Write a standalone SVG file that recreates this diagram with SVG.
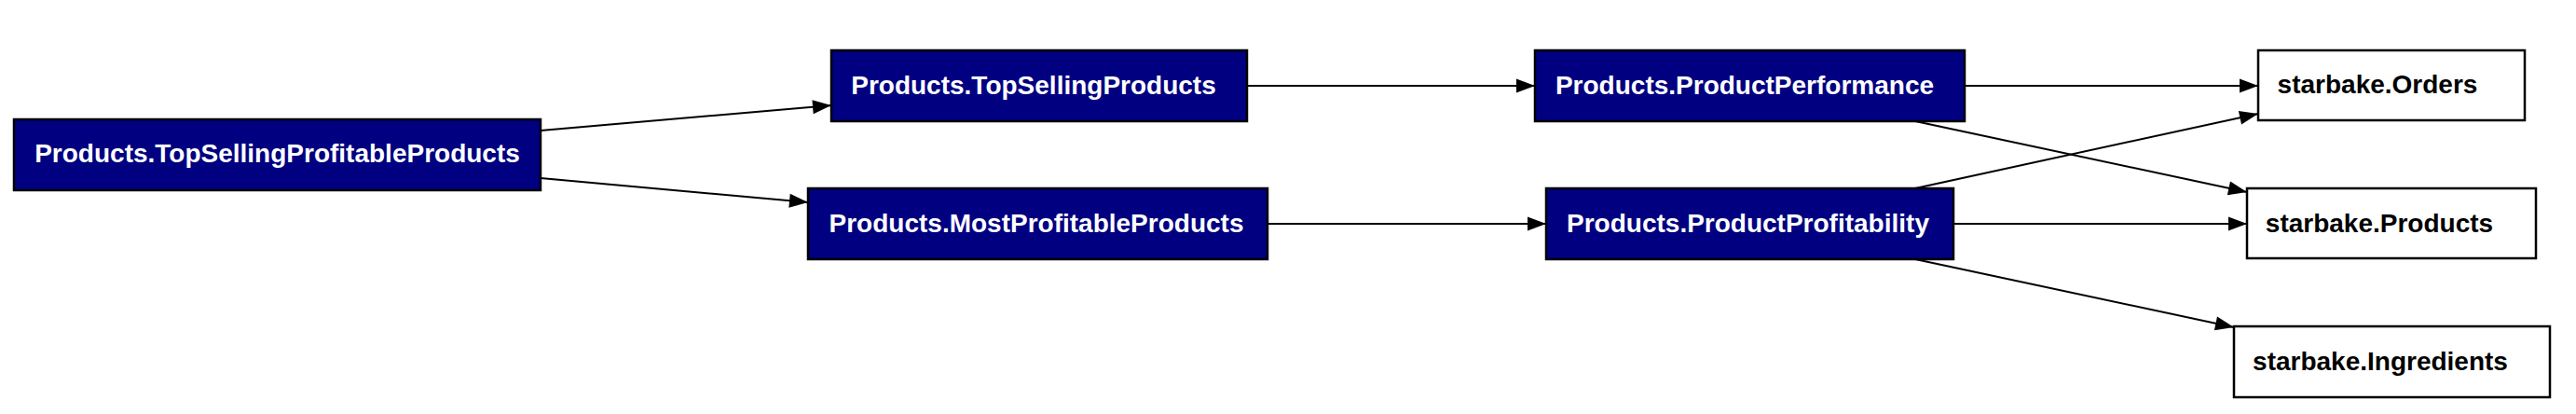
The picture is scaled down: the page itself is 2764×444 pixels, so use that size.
<svg xmlns="http://www.w3.org/2000/svg" width="2764" height="444" viewBox="0 0 2764 444">
<defs>
<style>
.dbt rect{fill:#000080;stroke:#000;stroke-width:2.5}
.dbt text{fill:#fff;font-family:"Liberation Sans",Arial,Helvetica,sans-serif;font-weight:bold;font-size:28px;text-anchor:middle}
.src rect{fill:#fff;stroke:#000;stroke-width:2.5}
.src text{fill:#000;font-family:"Liberation Sans",Arial,Helvetica,sans-serif;font-weight:bold;font-size:28px;text-anchor:middle}
#edges path{fill:none;stroke:#000;stroke-width:2;marker-end:url(#arr)}
</style>
<marker id="arr" markerUnits="userSpaceOnUse" markerWidth="22" markerHeight="16" refX="21" refY="8" orient="auto">
<path d="M1,0.5 L21,8 L1,15.5 Z" fill="#000"/>
</marker>
</defs>
<rect x="0" y="0" width="2764" height="444" fill="#fff"/>
<g id="edges">
<path d="M580,140 L892,113"/>
<path d="M580,191 L867,217"/>
<path d="M1338,92 L1647,92"/>
<path d="M1360,240 L1659,240"/>
<path d="M2108,92 L2423,92"/>
<path d="M2055,130 L2411,206"/>
<path d="M2055,202 L2423,122"/>
<path d="M2096,240 L2411,240"/>
<path d="M2055,278 L2397,351"/>
</g>
<g id="n_TopSellingProfitableProducts" class="dbt"><rect x="15" y="128" width="565" height="76"/><text x="297.5" y="174">Products.TopSellingProfitableProducts</text></g>
<g id="n_TopSellingProducts" class="dbt"><rect x="892" y="54" width="446" height="76"/><text x="1109" y="101">Products.TopSellingProducts</text></g>
<g id="n_MostProfitableProducts" class="dbt"><rect x="867" y="202" width="493" height="76"/><text x="1112" y="249">Products.MostProfitableProducts</text></g>
<g id="n_ProductPerformance" class="dbt"><rect x="1647" y="54" width="461" height="76"/><text x="1872" y="101">Products.ProductPerformance</text></g>
<g id="n_ProductProfitability" class="dbt"><rect x="1659" y="202" width="437" height="76"/><text x="1875.5" y="249">Products.ProductProfitability</text></g>
<g id="n_Orders" class="src"><rect x="2423" y="54" width="286" height="75"/><text x="2551" y="100">starbake.Orders</text></g>
<g id="n_Products" class="src"><rect x="2411" y="202" width="310" height="75"/><text x="2553" y="249">starbake.Products</text></g>
<g id="n_Ingredients" class="src"><rect x="2397" y="350" width="339" height="76"/><text x="2554" y="397">starbake.Ingredients</text></g>
</svg>
